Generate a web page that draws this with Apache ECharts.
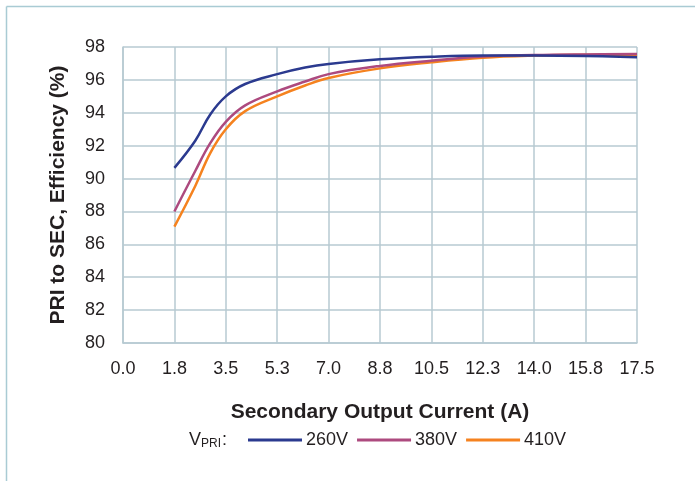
<!DOCTYPE html>
<html><head><meta charset="utf-8">
<script src="https://cdn.jsdelivr.net/npm/echarts@6/dist/echarts.min.js"></script>
<style>html,body{margin:0;padding:0;background:#fff}#c{width:695px;height:481px}</style>
</head><body><div id="c"></div>
<script>
const xValues = [1.75, 2.46, 2.97, 3.5, 4.16, 5.25, 6.2, 7.0, 8.75, 10.5, 12.25, 14.0, 15.75, 17.5];
const eff260 = [90.65, 92.3, 93.9, 95.0, 95.75, 96.35, 96.75, 96.97, 97.25, 97.41, 97.49, 97.48, 97.45, 97.38];
const eff380 = [88.0, 90.46, 92.15, 93.45, 94.45, 95.3, 95.9, 96.35, 96.85, 97.17, 97.42, 97.51, 97.55, 97.57];
const eff410 = [87.08, 89.55, 91.55, 93.0, 94.1, 95.0, 95.66, 96.12, 96.7, 97.07, 97.35, 97.48, 97.53, 97.53];
const seriesNames = ['260V', '380V', '410V'];
const colors = ['#2b3a8f', '#ad4a7f', '#f5821f'];
const xTitle = 'Secondary Output Current (A)';
const yTitle = 'PRI to SEC, Efficiency (%)';

const pair = arr => xValues.map((x, i) => [x, arr[i]]);
const gridColor = '#b7cad2';
const font = '"Liberation Sans", Arial, sans-serif';
const txt = '#231f20';

const chart = echarts.init(document.getElementById('c'));
chart.setOption({
  animation: false,
  color: colors,
  grid: { left: 123, right: 58, top: 47, bottom: 138, containLabel: false },
  xAxis: {
    type: 'value', min: 0, max: 17.5, interval: 1.75,
    axisLine: { show: true, lineStyle: { color: gridColor, width: 1.5 } },
    axisTick: { show: false },
    splitLine: { show: true, lineStyle: { color: gridColor, width: 1.5 } },
    axisLabel: { formatter: v => v.toFixed(1), color: txt, fontSize: 18, fontFamily: font, margin: 17 },
    name: xTitle, nameLocation: 'middle', nameGap: 59,
    nameTextStyle: { fontSize: 21, fontWeight: 'bold', color: txt, fontFamily: font }
  },
  yAxis: {
    type: 'value', min: 80, max: 98, interval: 2,
    axisLine: { show: true, lineStyle: { color: gridColor, width: 1.5 } },
    axisTick: { show: false },
    splitLine: { show: true, lineStyle: { color: gridColor, width: 1.5 } },
    axisLabel: { color: txt, fontSize: 18, fontFamily: font, margin: 18 },
    name: yTitle, nameLocation: 'middle', nameGap: 54, nameRotate: 90,
    nameTextStyle: { fontSize: 21, fontWeight: 'bold', color: txt, fontFamily: font }
  },
  legend: {
    left: 248, top: 431, padding: 0, itemWidth: 54, itemHeight: 3, itemGap: 9, icon: 'rect',
    textStyle: { fontSize: 18, color: txt, fontFamily: font, padding: [0, 0, 0, -1] },
    data: seriesNames
  },
  graphic: [
    { type: 'line', shape: { x1: 6.5, y1: 6.5, x2: 6.5, y2: 481 }, style: { stroke: '#a9cbd4', lineWidth: 1.5 } },
    { type: 'line', shape: { x1: 6.5, y1: 6.5, x2: 695, y2: 6.5 }, style: { stroke: '#a9cbd4', lineWidth: 1.5 } },
    { type: 'text', left: 189, top: 431, style: {
        text: '{v|V}{s|PRI}{v|:}', rich: {
          v: { fontSize: 18, fontFamily: font, fill: txt },
          s: { fontSize: 12, fontFamily: font, fill: txt, verticalAlign: 'bottom', padding: [7, 1, 0, 0] }
        } } }
  ],
  series: [eff260, eff380, eff410].map((arr, i) => ({
    name: seriesNames[i], type: 'line', data: pair(arr), showSymbol: false, symbol: 'none',
    smooth: 0.4,
    lineStyle: { width: 2.5, color: colors[i] }, z: 3 - i
  }))
});
</script></body></html>
